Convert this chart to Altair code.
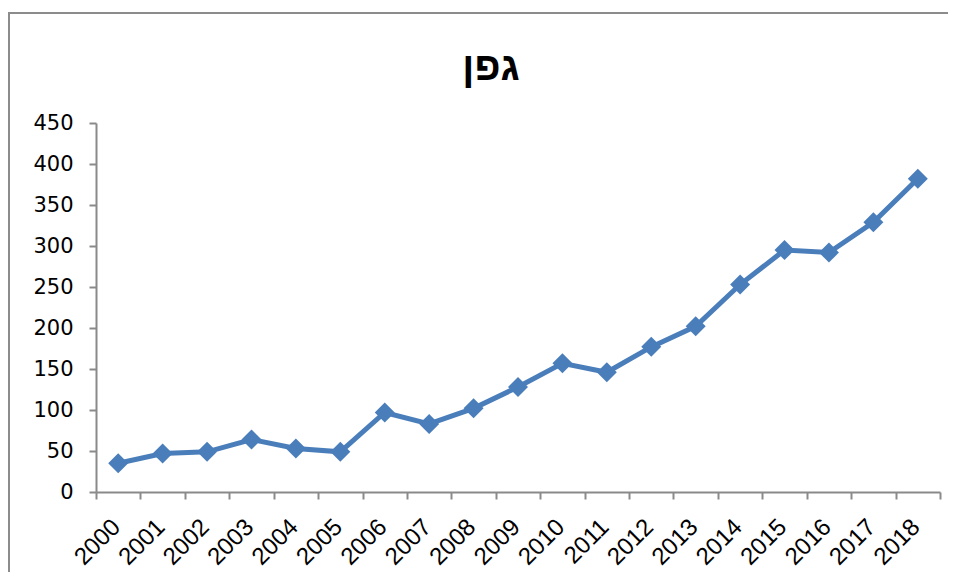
import altair as alt
import pandas as pd

years = [str(y) for y in range(2000, 2019)]
values = [35, 47, 49, 64, 53, 49, 97, 83, 102, 128, 157, 146, 177, 202, 253, 295, 292, 329, 382]
y_ticks = [0, 50, 100, 150, 200, 250, 300, 350, 400, 450]
title_text = "גפן"

df = pd.DataFrame({"year": years, "value": values})

AXIS_GRAY = "#8a8a8a"
LINE_BLUE = "#4a7ebb"

x_enc = alt.X(
    "year:N",
    sort=years,
    scale=alt.Scale(paddingInner=0, paddingOuter=0),
    axis=alt.Axis(
        title=None,
        labelAngle=-45,
        labelAlign="right",
        labelBaseline="middle",
        labelFont="Liberation Sans",
        labelFontSize=24,
        labelColor="black",
        labelPadding=24,
        labelOffset=-2,
        labelOverlap=False,
        tickBand="extent",
        tickColor=AXIS_GRAY,
        tickSize=7,
        tickWidth=2,
        domainColor=AXIS_GRAY,
        domainWidth=2,
        grid=False,
    ),
)
y_enc = alt.Y(
    "value:Q",
    scale=alt.Scale(domain=[0, 450], nice=False),
    axis=alt.Axis(
        title=None,
        values=y_ticks,
        labelFont="DejaVu Sans",
        labelFontSize=21,
        labelColor="black",
        labelPadding=16,
        tickColor=AXIS_GRAY,
        tickSize=7,
        tickWidth=2,
        domainColor=AXIS_GRAY,
        domainWidth=2,
        grid=False,
    ),
)

base = alt.Chart(df).encode(x=x_enc, y=y_enc)
line = base.mark_line(color=LINE_BLUE, strokeWidth=5)
pts = base.mark_point(shape="diamond", filled=True, color=LINE_BLUE, opacity=1, size=400)

one = pd.DataFrame({"a": [0]})
frame_left = alt.Chart(one).mark_rule(color="#8c8c8c", strokeWidth=2).encode(
    x=alt.value(-87), y=alt.value(-110), y2=alt.value(449)
)
frame_top = alt.Chart(one).mark_rule(color="#8c8c8c", strokeWidth=2).encode(
    x=alt.value(-88), x2=alt.value(852), y=alt.value(-110)
)
title = alt.Chart(one).mark_text(
    text=title_text,
    font="Liberation Sans",
    fontSize=40,
    fontWeight="bold",
    color="black",
    align="center",
    baseline="alphabetic",
).encode(x=alt.value(395), y=alt.value(-43))

chart = alt.layer(frame_left, frame_top, line, pts, title).properties(
    width=844,
    height=369,
    autosize=alt.AutoSizeParams(type="none"),
    padding={"left": 88, "top": 115, "right": 9, "bottom": 81},
).configure(
    background="white",
    view=alt.ViewConfig(stroke="transparent", strokeWidth=0),
)

chart.save("out.html", embed_options={"renderer": "svg", "actions": False})
